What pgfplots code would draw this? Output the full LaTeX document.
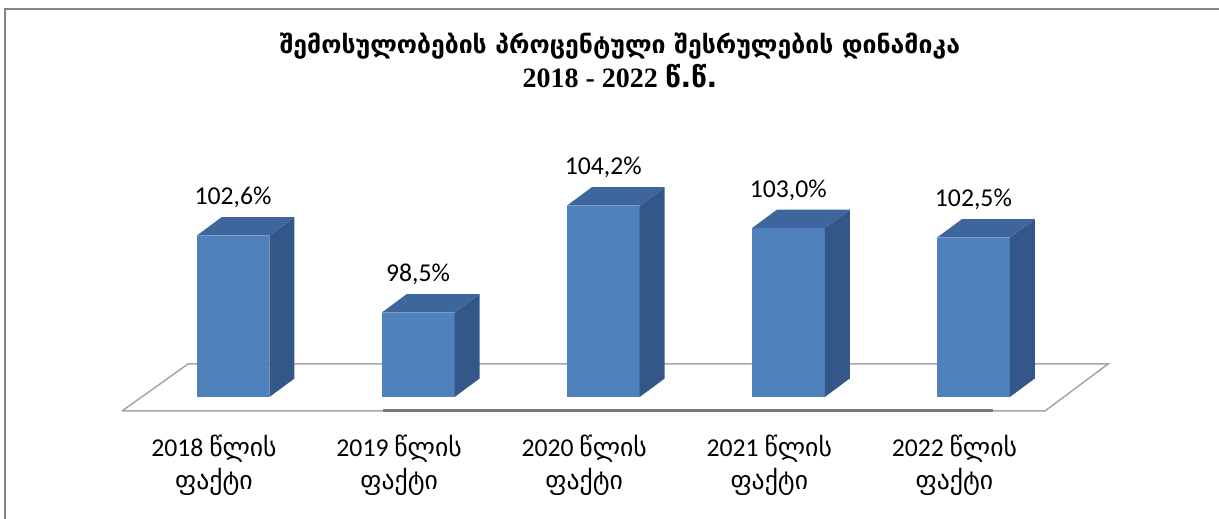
\documentclass[border=0pt]{standalone}
\usepackage{fontspec}
\setmainfont{Carlito}
\newfontfamily\geo{DejaVu Sans}
\newfontfamily\titleserif{Liberation Serif}
\usepackage{pgfplots}
\pgfplotsset{compat=1.18}
\definecolor{barfront}{HTML}{4F81BD}
\definecolor{barside}{HTML}{34578A}
\definecolor{bartop}{HTML}{3D679C}
\definecolor{floorline}{HTML}{A6A6A6}
\definecolor{borderline}{HTML}{858585}

% one 3-D bar: #1 = category position, #2 = value (%)
\newcommand\threedbar[2]{%
  \pgfmathsetmacro\xl{#1-0.197}%
  \pgfmathsetmacro\xr{#1+0.197}%
  \pgfmathsetmacro\xrb{#1+0.197+0.1351}%
  \pgfmathsetmacro\xlb{#1-0.197+0.1351}%
  \pgfmathsetmacro\vb{94+0.9867}%
  \pgfmathsetmacro\vt{#2+0.9867}%
  \addplot[fill=barfront, draw=none] coordinates {(\xl,94) (\xr,94) (\xr,#2) (\xl,#2)};
  \addplot[fill=barside, draw=none] coordinates {(\xr,94) (\xrb,\vb) (\xrb,\vt) (\xr,#2)};
  \addplot[fill=bartop, draw=none] coordinates {(\xl,#2) (\xr,#2) (\xrb,\vt) (\xlb,\vt)};
}

\begin{document}
\begin{tikzpicture}
\begin{axis}[
  at={(0,0)}, anchor=south west,
  scale only axis, width=609.5bp, height=259.5bp,
  xmin=-1.2588, xmax=5.3269, ymin=87.4933, ymax=115.1733,
  clip=false,
  axis x line*=bottom, axis y line*=left,
  axis line style={draw=none},
  ytick=\empty,
  xtick={0,1,2,3,4},
  tick style={draw=none},
  xticklabels={{2018 {\geo წლის}\\{\geo ფაქტი}},
               {2019 {\geo წლის}\\{\geo ფაქტი}},
               {2020 {\geo წლის}\\{\geo ფაქტი}},
               {2021 {\geo წლის}\\{\geo ფაქტი}},
               {2022 {\geo წლის}\\{\geo ფაქტი}}},
  xticklabel style={align=center, anchor=north, inner sep=0pt, yshift=42bp, xshift=-9.5bp,
    font=\fontsize{12.85bp}{16.5bp}\selectfont},
  title={{\geo\bfseries შემოსულობების პროცენტული შესრულების დინამიკა}\\
         {\fontsize{14bp}{17bp}\selectfont\titleserif\bfseries 2018 - 2022 {\geo წ.წ.}}},
  title style={at={(0.5086,0.914)}, anchor=north, align=center, inner sep=0pt,
    font=\fontsize{12.4bp}{17bp}\selectfont},
]
% floor
\addplot[fill=white, draw=floorline, line width=0.75bp]
  coordinates {(-0.5997,93.2533) (4.3868,93.2533) (4.7272,95.76) (-0.2431,95.76) (-0.5997,93.2533)};
\addplot[draw=gray!95!black, line width=1.5bp]
  coordinates {(0.8104,93.2533) (4.1059,93.2533)};
% bars
\threedbar{0}{102.6}
\threedbar{1}{98.5}
\threedbar{2}{104.2}
\threedbar{3}{103.0}
\threedbar{4}{102.5}
% value labels
\addplot[draw=none, mark=none, nodes near coords, point meta=explicit symbolic,
  every node near coord/.style={anchor=center, yshift=19bp,
    font=\fontsize{12.85bp}{15bp}\selectfont}]
  coordinates {(0,102.6) [102,6\%] (1,98.5) [98,5\%] (2,104.2) [104,2\%]
               (3,103.0) [103,0\%] (4,102.5) [102,5\%]};
% chart border
\draw[borderline, line width=1bp] (rel axis cs:1,0.9817) -- (rel axis cs:0.0041,0.9817) -- (rel axis cs:0.0041,0);
\end{axis}
\pgfresetboundingbox
\useasboundingbox (0,0) rectangle (609.5bp,259.5bp);
\end{tikzpicture}
\end{document}
